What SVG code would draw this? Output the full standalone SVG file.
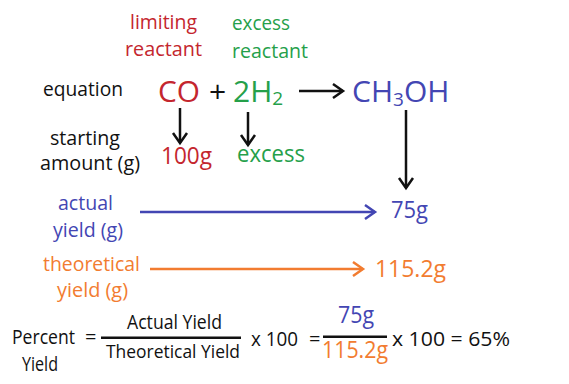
<svg xmlns="http://www.w3.org/2000/svg" width="569" height="384" viewBox="0 0 569 384">
<style>
text{font-family:"Open Sans","Noto Sans","Liberation Sans",sans-serif;}
.s{font-size:19.5px;}
.b{font-size:30px;}
.m{font-size:23px;}
.f{font-size:20px;}
.k{fill:#111;}
.r{fill:#c4262e;}
.g{fill:#25a04a;}
.u{fill:#4346b3;}
.o{fill:#f27c30;}
.ln{fill:none;stroke-width:2.5;}
</style>
<defs>
<marker id="ak" markerUnits="userSpaceOnUse" markerWidth="20" markerHeight="20" refX="12" refY="8" orient="auto" viewBox="0 0 20 16"><polyline points="2,1 12,8 2,15" fill="none" stroke="#111" stroke-width="2.5"/></marker>
<marker id="au" markerUnits="userSpaceOnUse" markerWidth="20" markerHeight="20" refX="12" refY="8" orient="auto" viewBox="0 0 20 16"><polyline points="2,1 12,8 2,15" fill="none" stroke="#4346b3" stroke-width="2.5"/></marker>
<marker id="ao" markerUnits="userSpaceOnUse" markerWidth="20" markerHeight="20" refX="12" refY="8" orient="auto" viewBox="0 0 20 16"><polyline points="2,1 12,8 2,15" fill="none" stroke="#f27c30" stroke-width="2.5"/></marker>
</defs>
<rect width="569" height="384" fill="#fff"/>
<g id="label-limiting"><text class="s r" x="130" y="29" textLength="67" lengthAdjust="spacingAndGlyphs">limiting</text><text class="s r" x="125" y="56" textLength="77" lengthAdjust="spacingAndGlyphs">reactant</text></g>
<g id="label-excess"><text class="s g" x="232" y="30" textLength="58" lengthAdjust="spacingAndGlyphs">excess</text><text class="s g" x="232" y="58" textLength="76" lengthAdjust="spacingAndGlyphs">reactant</text></g>
<g id="label-equation"><text class="s k" x="43" y="96" textLength="80" lengthAdjust="spacingAndGlyphs">equation</text></g>
<g id="co"><text class="b r" x="158" y="102" textLength="42" lengthAdjust="spacingAndGlyphs">CO</text></g>
<g id="plus"><text class="b k" x="209" y="102">+</text></g>
<g id="h2"><text class="b g" x="233" y="102">2H<tspan font-size="19" dy="3">2</tspan></text></g>
<g id="ch3oh"><text class="b u" x="352" y="102">CH<tspan font-size="19" dy="4">3</tspan><tspan dy="-4">OH</tspan></text></g>
<g id="label-starting"><text class="s k" x="50" y="145" textLength="70" lengthAdjust="spacingAndGlyphs">starting</text><text class="s k" x="40" y="170" textLength="100" lengthAdjust="spacingAndGlyphs">amount (g)</text></g>
<g id="amount-co"><text class="m r" x="161" y="164" textLength="51" lengthAdjust="spacingAndGlyphs">100g</text></g>
<g id="amount-h2"><text class="m g" x="237" y="162" textLength="68" lengthAdjust="spacingAndGlyphs">excess</text></g>
<g id="label-actual"><text class="s u" x="58" y="210" textLength="55" lengthAdjust="spacingAndGlyphs">actual</text><text class="s u" x="53" y="237" textLength="70" lengthAdjust="spacingAndGlyphs">yield (g)</text></g>
<g id="actual-value"><text class="m u" x="391" y="218" textLength="37" lengthAdjust="spacingAndGlyphs">75g</text></g>
<g id="label-theoretical"><text class="s o" x="43" y="271" textLength="97" lengthAdjust="spacingAndGlyphs">theoretical</text><text class="s o" x="57" y="297" textLength="71" lengthAdjust="spacingAndGlyphs">yield (g)</text></g>
<g id="theoretical-value"><text class="m o" x="375" y="277" textLength="71" lengthAdjust="spacingAndGlyphs">115.2g</text></g>
<g id="formula">
<text class="f k" x="12" y="344" textLength="63" lengthAdjust="spacingAndGlyphs">Percent</text>
<text class="f k" x="22" y="371" textLength="36" lengthAdjust="spacingAndGlyphs">Yield</text>
<text class="f k" x="85" y="344">=</text>
<text class="f k" x="127" y="329" textLength="95" lengthAdjust="spacingAndGlyphs">Actual Yield</text>
<rect x="101" y="336.5" width="140" height="2.5" fill="#111"/>
<text class="k" font-size="18" x="106" y="358" textLength="134" lengthAdjust="spacingAndGlyphs">Theoretical Yield</text>
<text class="f k" x="251" y="346" textLength="47" lengthAdjust="spacingAndGlyphs">x 100</text>
<text class="f k" x="309" y="346">=</text>
<text class="m u" x="338" y="323" textLength="36" lengthAdjust="spacingAndGlyphs">75g</text>
<rect x="323" y="335.5" width="64" height="2.5" fill="#111"/>
<text class="m o" x="322" y="358" textLength="66" lengthAdjust="spacingAndGlyphs">115.2g</text>
<text class="f k" x="392" y="346" textLength="118" lengthAdjust="spacingAndGlyphs">x 100 = 65%</text>
</g>
<g id="connectors">
<line class="ln" stroke="#111" x1="299" y1="91" x2="343" y2="91" marker-end="url(#ak)"/>
<line class="ln" stroke="#111" x1="180" y1="108" x2="180" y2="143" marker-end="url(#ak)"/>
<line class="ln" stroke="#111" x1="248" y1="112" x2="248" y2="145" marker-end="url(#ak)"/>
<line class="ln" stroke="#111" x1="406" y1="110" x2="406" y2="188" marker-end="url(#ak)"/>
<line class="ln" stroke="#4346b3" x1="140" y1="212" x2="375" y2="212" marker-end="url(#au)"/>
<line class="ln" stroke="#f27c30" x1="150" y1="269" x2="363" y2="269" marker-end="url(#ao)"/>
</g>
</svg>
